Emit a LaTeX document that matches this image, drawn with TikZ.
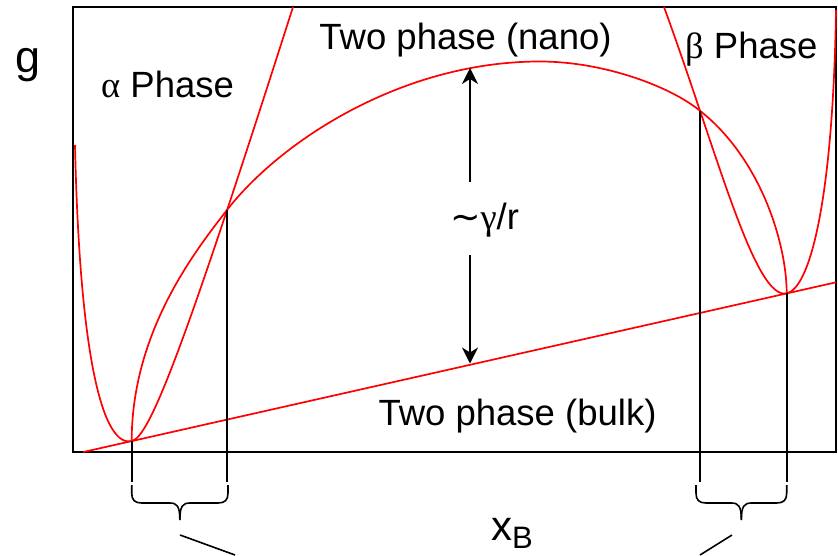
\documentclass[tikz,border=0pt]{standalone}
\usepackage{fontspec}
\setmainfont{Liberation Sans}
\newfontfamily\grk{Liberation Serif}
\newfontfamily\dvs{DejaVu Sans}
\usetikzlibrary{arrows.meta,intersections}
\newcommand\mybrace[2]{%
  \draw[blk] (#1,485) -- (#1,493) .. controls (#1,500) and ({#1+3},503) .. ({#1+10},503)
    -- ({(#1+#2)/2-10},503) .. controls ({(#1+#2)/2-3},503) and ({(#1+#2)/2},506) .. ({(#1+#2)/2},520);
  \draw[blk] (#2,485) -- (#2,493) .. controls (#2,500) and ({#2-3},503) .. ({#2-10},503)
    -- ({(#1+#2)/2+10},503) .. controls ({(#1+#2)/2+3},503) and ({(#1+#2)/2},506) .. ({(#1+#2)/2},520);
}
\begin{document}
\begin{tikzpicture}[x=1pt,y=-1pt,
  redc/.style={draw=red, line width=1.7pt},
  blk/.style={draw=black, line width=1.6pt},
  lbl/.style={inner sep=0pt, anchor=base, font=\fontsize{36.5}{40}\selectfont},
  arr/.style={blk, -{Stealth[length=16pt,width=16pt,inset=5pt]}}]
\useasboundingbox (0,0) rectangle (838,555);
% frame
\draw[blk, line width=1.8pt] (73,7) rectangle (836,452);
% tangent points
\coordinate (amin) at (131.7,441.1);
\coordinate (bmin) at (786.7,293.4);
\coordinate (lv) at (0,482);
% bulk common tangent
\draw[redc] (83.3,452) -- (836,282.3);
% alpha phase curve
\draw[redc] (75,145) .. controls (80,370) and (105,447.1) .. (amin)
  .. controls (140.85,439.05) and (154.2,415) .. (178.7,349.3)
  .. controls (203.25,283.5) and (239,176) .. (293,7);
\path[name path=aup] (178.7,349.3) .. controls (203.25,283.5) and (239,176) .. (293,7);
% beta phase curve
\draw[redc] (664,7) .. controls (691,81) and (713.75,154.4) .. (733.7,208.4)
  .. controls (753.68,262.39) and (770.85,296.98) .. (bmin)
  .. controls (810,288.1) and (833,200) .. (836,10);
\path[name path=bup] (664,7) .. controls (691,81) and (713.75,154.4) .. (733.7,208.4);
% two phase (nano) curve
\draw[redc, name path=nano] (amin)
  .. controls (131.7,331.1) and (196.35,249.5) .. (227,210)
  .. controls (279.1,142.85) and (400,61.5) .. (540,61.5)
  .. controls (600,61.5) and (663.9,83.8) .. (696,107.7)
  .. controls (760.2,155.5) and (786.7,243.4) .. (bmin);
\path[name intersections={of=aup and nano, by=ax}];
\path[name intersections={of=bup and nano, by=bx}];
% drop lines
\draw[blk] (amin) -- (amin |- lv);
\draw[blk] (ax) -- (ax |- lv);
\draw[blk] (bx) -- (bx |- lv);
\draw[blk] (bmin) -- (bmin |- lv);
% braces
\mybrace{131.7}{228}
\mybrace{696}{786.7}
\coordinate (la1) at (180,535);
\coordinate (la2) at (235,555);
\coordinate (lb1) at (732,535);
\coordinate (lb2) at (700,555);
\draw[blk] (la1) -- (la2);
\draw[blk] (lb1) -- (lb2);
% gap arrow
\coordinate (gt) at (470,182);
\coordinate (gtip) at (470,68);
\coordinate (gb) at (470,255);
\coordinate (gbtip) at (470,363.5);
\draw[arr] (gt) -- (gtip);
\draw[arr] (gb) -- (gbtip);
% labels
\node[lbl, font=\fontsize{45}{50}\selectfont] (g) at (28.5,72) {g};
\node[lbl, anchor=base west] (alpha) at (101,97) {{\grk α} Phase};
\node[lbl] (nanolbl) at (465.5,49) {Two phase (nano)};
\node[lbl, anchor=base west] (beta) at (685,58) {{\grk β} Phase};
\node[lbl] (bulk) at (517.5,425) {Two phase (bulk)};
\node[lbl] (gr) at (484.5,229) {{\dvs ∼}{\grk γ}/r};
\node[lbl, anchor=base west, font=\fontsize{42}{46}\selectfont] (xb) at (491,540) {x\raisebox{-8pt}{\fontsize{31}{34}\selectfont B}};
\end{tikzpicture}
\end{document}
